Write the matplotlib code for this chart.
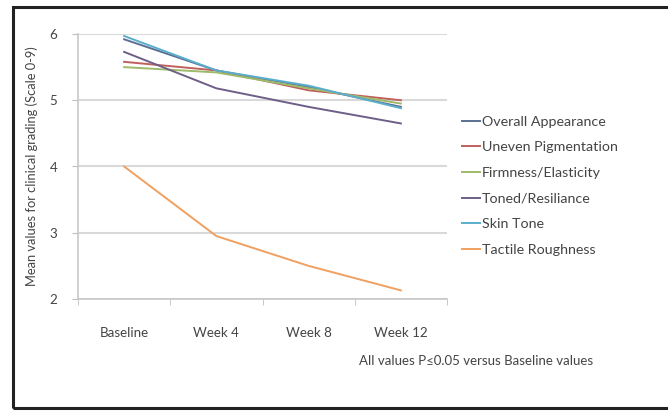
import matplotlib
matplotlib.use("Agg")
import matplotlib.pyplot as plt
from matplotlib.patches import Rectangle

plt.rcParams['font.family'] = ['Lato', 'DejaVu Sans']

# data
weeks = ['Baseline', 'Week 4', 'Week 8', 'Week 12']
overall_appearance = [5.92, 5.45, 5.20, 4.90]
uneven_pigmentation = [5.58, 5.45, 5.15, 5.00]
firmness_elasticity = [5.50, 5.42, 5.18, 4.95]
toned_resiliance = [5.73, 5.18, 4.90, 4.65]
skin_tone = [5.97, 5.45, 5.22, 4.88]
tactile_roughness = [4.00, 2.95, 2.50, 2.13]

series = [
    ('Overall Appearance', overall_appearance, '#5a6f92'),
    ('Uneven Pigmentation', uneven_pigmentation, '#c0605d'),
    ('Firmness/Elasticity', firmness_elasticity, '#9dbb6a'),
    ('Toned/Resiliance', toned_resiliance, '#6f5f88'),
    ('Skin Tone', skin_tone, '#5aaecb'),
    ('Tactile Roughness', tactile_roughness, '#f0a060'),
]

W, H = 668, 411
fig = plt.figure(figsize=(W / 100, H / 100), dpi=100)
ax = fig.add_axes([78 / W, (H - 299) / H, (447 - 78) / W, (299 - 34) / H])

x = range(len(weeks))
for name, vals, col in series:
    ax.plot(x, vals, color=col, lw=1.4, label=name)

ax.set_xlim(-0.5, 3.5)
ax.set_ylim(2, 6)
ax.set_yticks([2, 3, 4, 5, 6])
ax.set_xticks(list(x))
ax.set_xticklabels(weeks)
ax.set_xticks([-0.5, 0.5, 1.5, 2.5, 3.5], minor=True)
ax.tick_params(axis='x', which='major', length=0, pad=20, labelsize=9.6, colors='#444444')
ax.tick_params(axis='x', which='minor', length=4, color='#bfbfbf')
ax.tick_params(axis='y', length=4, color='#bfbfbf', labelsize=9.6, colors='#444444', pad=11)
ax.grid(axis='y', color='#d9d9d9', lw=1.5)
ax.set_axisbelow(True)
for s in ['top', 'right']:
    ax.spines[s].set_visible(False)
for s in ['left', 'bottom']:
    ax.spines[s].set_color('#c8c8c8')
    ax.spines[s].set_linewidth(1.2)

ax.set_ylabel('Mean values for clinical grading (Scale 0-9)', fontsize=9.3, color='#444444', labelpad=8)

ax.legend(loc='upper left', bbox_to_anchor=(449 / W, (H - 103) / H), bbox_transform=fig.transFigure,
          frameon=False, fontsize=10.3, handlelength=1.3, handletextpad=0.1, labelspacing=0.95,
          labelcolor='#444444')

fig.text(359 / W, 1 - 361 / H, 'All values P\u22640.05 versus Baseline values', fontsize=9.5,
         color='#444444', va='center', ha='left')

fig.patches.append(Rectangle((13 / W, 3 / H), 1.0, 1 - 10 / H, transform=fig.transFigure,
                             fill=False, ec='#222222', lw=2.2))

fig.savefig('out.png', dpi=100)
